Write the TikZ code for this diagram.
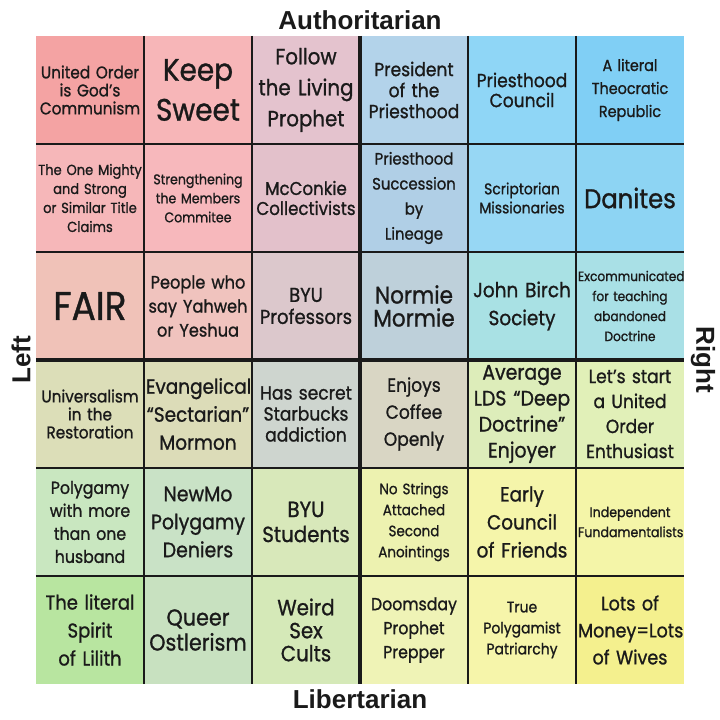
\documentclass[tikz,border=0pt]{standalone}
\usepackage{fontspec}
\setmainfont{Poppins}[FakeStretch=0.9,FakeBold=1]
\newfontfamily\axisfont{Liberation Sans}
\usetikzlibrary{positioning}
\definecolor{ink}{HTML}{1A1A1A}
% authoritarian left
\definecolor{tone11}{HTML}{F4A3A3}
\definecolor{tone12}{HTML}{F7B6B8}
\definecolor{tone13}{HTML}{E4C3CE}
\definecolor{tone21}{HTML}{F6B7B9}
\definecolor{tone22}{HTML}{F7B8BC}
\definecolor{tone23}{HTML}{E3C1CB}
\definecolor{tone31}{HTML}{F0C2B8}
\definecolor{tone32}{HTML}{F0C3BE}
\definecolor{tone33}{HTML}{DCC8CC}
% authoritarian right
\definecolor{tone14}{HTML}{B3D3EA}
\definecolor{tone15}{HTML}{8FD6F6}
\definecolor{tone16}{HTML}{80CFF5}
\definecolor{tone24}{HTML}{B0CFE6}
\definecolor{tone25}{HTML}{97D7F4}
\definecolor{tone26}{HTML}{8DD4F3}
\definecolor{tone34}{HTML}{BED0DA}
\definecolor{tone35}{HTML}{A9E1E4}
\definecolor{tone36}{HTML}{A9E0E6}
% libertarian left
\definecolor{tone41}{HTML}{DCDEB8}
\definecolor{tone42}{HTML}{DCDCB8}
\definecolor{tone43}{HTML}{CED5CF}
\definecolor{tone51}{HTML}{C9E7C0}
\definecolor{tone52}{HTML}{C9E2C6}
\definecolor{tone53}{HTML}{D8E8BA}
\definecolor{tone61}{HTML}{B8E5A0}
\definecolor{tone62}{HTML}{C8E1C0}
\definecolor{tone63}{HTML}{D5E9B8}
% libertarian right
\definecolor{tone44}{HTML}{D9D6C4}
\definecolor{tone45}{HTML}{DDEDBA}
\definecolor{tone46}{HTML}{E1F0B8}
\definecolor{tone54}{HTML}{EDF2B0}
\definecolor{tone55}{HTML}{F5F5AA}
\definecolor{tone56}{HTML}{F4F5A8}
\definecolor{tone64}{HTML}{EFF3B6}
\definecolor{tone65}{HTML}{F6F5AA}
\definecolor{tone66}{HTML}{F4F08E}
\newcommand{\cf}[2]{\fontsize{#1}{#2}\selectfont}
\tikzset{
  cell/.style={text width=104pt,inner sep=2pt,minimum height=108pt,align=center,text=ink},
  gridln/.style={draw=ink,line width=1.8pt},
  midln/.style={draw=ink,line width=4.2pt},
  axislbl/.style={font=\axisfont\bfseries\cf{26}{30},text=ink},
}

\begin{document}
\begin{tikzpicture}[x=1pt,y=-1pt]
  \fill[white] (0,0) rectangle (720,720);
  \useasboundingbox (0,0) rectangle (720,720);
  % ===================== row 1 =====================
  \node[cell,fill=tone11,font=\cf{17}{18}] (cell11) at (90,90) {United Order\\is God’s\\Communism};
  \node[cell,fill=tone12,font=\cf{31}{40}] (cell12) at (198,90) {Keep\\Sweet};
  \node[cell,fill=tone13,font=\cf{22}{31}] (cell13) at (306,90) {Follow\\the Living\\Prophet};
  \node[cell,fill=tone14,font=\cf{19}{21}] (cell14) at (414,90) {President\\of the\\Priesthood};
  \node[cell,fill=tone15,font=\cf{19}{20}] (cell15) at (522,90) {Priesthood\\Council};
  \node[cell,fill=tone16,font=\cf{16}{23}] (cell16) at (630,90) {A literal\\Theocratic\\Republic};
  % ===================== row 2 =====================
  \node[cell,fill=tone21,font=\cf{14.5}{19}] (cell21) at (90,198) {The One Mighty\\and Strong\\or Similar Title\\Claims};
  \node[cell,fill=tone22,font=\cf{14}{19}] (cell22) at (198,198) {Strengthening\\the Members\\Commitee};
  \node[cell,fill=tone23,font=\cf{18.5}{20}] (cell23) at (306,198) {McConkie\\Collectivists};
  \node[cell,fill=tone24,font=\cf{16.5}{25}] (cell24) at (414,198) {Priesthood\\Succession\\by\\Lineage};
  \node[cell,fill=tone25,font=\cf{15.5}{19}] (cell25) at (522,198) {Scriptorian\\Missionaries};
  \node[cell,fill=tone26,font=\cf{27}{30}] (cell26) at (630,198) {Danites};
  % ===================== row 3 =====================
  \node[cell,fill=tone31,font=\cf{40}{44}] (cell31) at (90,306) {FAIR};
  \node[cell,fill=tone32,font=\cf{18}{24}] (cell32) at (198,306) {People who\\say Yahweh\\or Yeshua};
  \node[cell,fill=tone33,font=\cf{20}{22}] (cell33) at (306,306) {BYU\\Professors};
  \node[cell,fill=tone34,font=\cf{24}{23}] (cell34) at (414,306) {Normie\\Mormie};
  \node[cell,fill=tone35,font=\cf{20.5}{28}] (cell35) at (522,306) {John Birch\\Society};
  \node[cell,fill=tone36,font=\cf{13.5}{20}] (cell36) at (630,306) {Excommunicated\\for teaching\\abandoned\\Doctrine};
  % ===================== row 4 =====================
  \node[cell,fill=tone41,font=\cf{17}{18}] (cell41) at (90,414) {Universalism\\in the\\Restoration};
  \node[cell,fill=tone42,font=\cf{20.5}{28}] (cell42) at (198,414) {Evangelical\\“Sectarian”\\Mormon};
  \node[cell,fill=tone43,font=\cf{19}{21}] (cell43) at (306,414) {Has secret\\Starbucks\\addiction};
  \node[cell,fill=tone44,font=\cf{19}{27}] (cell44) at (414,414) {Enjoys\\Coffee\\Openly};
  \node[cell,fill=tone45,font=\cf{21}{26}] (cell45) at (522,414) {Average\\LDS “Deep\\Doctrine”\\Enjoyer};
  \node[cell,fill=tone46,font=\cf{19}{25}] (cell46) at (630,414) {Let’s start\\a United\\Order\\Enthusiast};
  % ===================== row 5 =====================
  \node[cell,fill=tone51,font=\cf{17.5}{23}] (cell51) at (90,522) {Polygamy\\with more\\than one\\husband};
  \node[cell,fill=tone52,font=\cf{21}{28}] (cell52) at (198,522) {NewMo\\Polygamy\\Deniers};
  \node[cell,fill=tone53,font=\cf{22}{25}] (cell53) at (306,522) {BYU\\Students};
  \node[cell,fill=tone54,font=\cf{15}{21}] (cell54) at (414,522) {No Strings\\Attached\\Second\\Anointings};
  \node[cell,fill=tone55,font=\cf{20.5}{28}] (cell55) at (522,522) {Early\\Council\\of Friends};
  \node[cell,fill=tone56,font=\cf{14}{20}] (cell56) at (630,522) {Independent\\Fundamentalists};
  % ===================== row 6 =====================
  \node[cell,fill=tone61,font=\cf{20}{28}] (cell61) at (90,630) {The literal\\Spirit\\of Lilith};
  \node[cell,fill=tone62,font=\cf{23}{25}] (cell62) at (198,630) {Queer\\Ostlerism};
  \node[cell,fill=tone63,font=\cf{22}{23}] (cell63) at (306,630) {Weird\\Sex\\Cults};
  \node[cell,fill=tone64,font=\cf{17.5}{24}] (cell64) at (414,630) {Doomsday\\Prophet\\Prepper};
  \node[cell,fill=tone65,font=\cf{15.5}{21}] (cell65) at (522,630) {True\\Polygamist\\Patriarchy};
  \node[cell,fill=tone66,font=\cf{19.5}{27}] (cell66) at (630,630) {Lots of\\Money=Lots\\of Wives};
  % grid lines
  \foreach \r in {1,2,4,5} \draw[gridln] (cell\r1.south west) -- (cell\r6.south east);
  \foreach \c in {1,2,4,5} \draw[gridln] (cell1\c.north east) -- (cell6\c.south east);
  \draw[midln] (cell31.south west) -- (cell36.south east);
  \draw[midln] (cell13.north east) -- (cell63.south east);
  % axes
  \node[axislbl] (auth) at (360,20) {Authoritarian};
  \node[axislbl] (lib) at (360,699) {Libertarian};
  \node[axislbl,rotate=90] (left) at (21,360) {Left};
  \node[axislbl,rotate=-90] (right) at (703,360) {Right};
\end{tikzpicture}
\end{document}
